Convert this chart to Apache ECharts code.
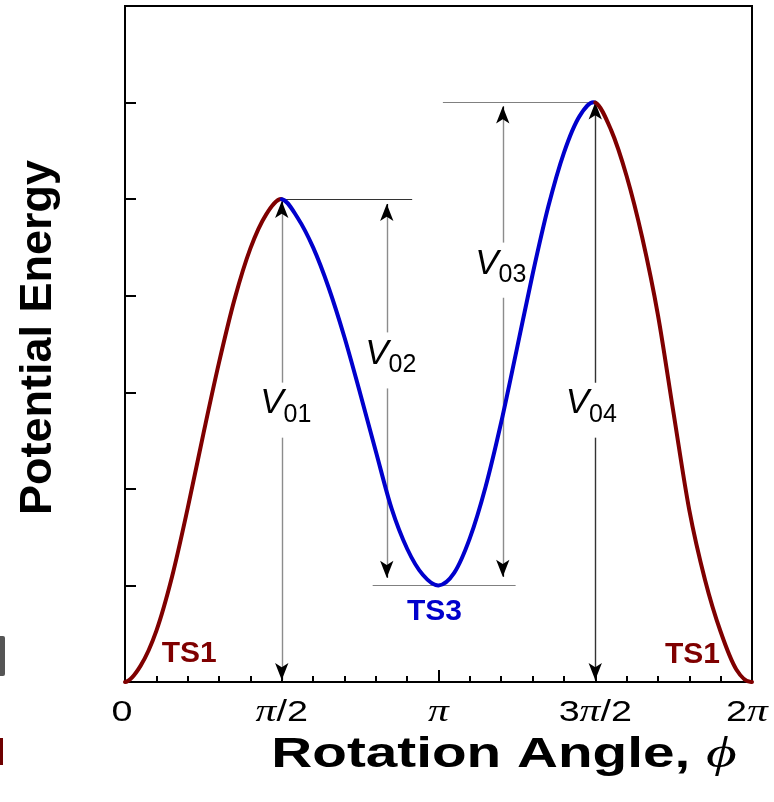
<!DOCTYPE html>
<html>
<head>
<meta charset="utf-8">
<script src="https://cdn.jsdelivr.net/npm/echarts@6/dist/echarts.min.js"></script>
<style>html,body{margin:0;padding:0;background:#fff}#c{width:774px;height:802px}</style>
</head>
<body>
<div id="c"></div>
<script>
// ---------- data (angles in units of pi) ----------
const phi = [0, 0.05, 0.10, 0.15, 0.20, 0.25, 0.30, 0.35, 0.40, 0.45,
             0.50, 0.55, 0.60, 0.65, 0.70, 0.75, 0.80, 0.85, 0.90, 0.95,
             1.00, 1.05, 1.10, 1.15, 1.20, 1.25, 1.30, 1.35, 1.40, 1.45,
             1.50, 1.55, 1.60, 1.65, 1.70, 1.75, 1.80, 1.85, 1.90, 1.95, 2.00];
const energy = [0, 0.17, 0.53, 1.09, 1.80, 2.57, 3.31, 3.97, 4.49, 4.84,
                5.00, 4.81, 4.50, 4.08, 3.57, 2.99, 2.39, 1.80, 1.38, 1.11,
                1.00, 1.13, 1.49, 2.02, 2.69, 3.45, 4.22, 4.92, 5.48, 5.86,
                6.00, 5.72, 5.24, 4.60, 3.80, 2.78, 1.78, 1.06, 0.52, 0.13, 0];
const xTickValues = [0, 0.5, 1, 1.5, 2];
const xTickLabels = ['0', '{p|π}/2', '{p|π}', '3{p|π}/2', '2{p|π}'];
const yMin = 0, yMax = 7, yStep = 1;

// barrier arrows
const barrierNames = ['01', '02', '03', '04'];
const barrierX    = [0.5, 0.835, 1.205, 1.5];
const barrierLow  = [0.02, 1.08, 1.09, 0.02];
const barrierHigh = [4.98, 4.95, 5.96, 6.0];
const labelY  = [2.82, 3.33, 4.26, 2.82];
const gapLow  = [2.53, 3.04, 3.98, 2.53];
const gapHigh = [3.10, 3.62, 4.55, 3.10];
// reference levels
const refLevel = [5, 6, 1];
const refFrom  = [0.5, 1.014, 0.79];
const refTo    = [0.916, 1.5, 1.246];
// transition state labels
const tsNames = ['TS1', 'TS3', 'TS1'];
const tsX = [0.205, 0.987, 1.81];
const tsY = [0.29, 0.725, 0.28];
// colour segments of the curve (indices into phi)
const segStart = [0, 10, 30];
const segEnd   = [10, 30, 40];

// ---------- styles ----------
const FONT = '"Liberation Sans", Arial, Helvetica, sans-serif';
const SERIF = '"Liberation Serif", "DejaVu Serif", serif';
const RED = '#7f0000', BLUE = '#0000cc';
const segColors = [RED, BLUE, RED];
const arrowColors = ['#8c8c8c', '#8c8c8c', '#8c8c8c', '#333333'];
const refColors = ['#333333', '#808080', '#808080'];
const tsColors = [RED, BLUE, RED];
const labelDx = [4, 4, -2, -4];
const TEXT_STRETCH = 1.3;

const chart = echarts.init(document.getElementById('c'));
const curve = phi.map((p, i) => [p, energy[i]]);
const n = phi.length;

function renderCurve(params, api) {
  if (params.dataIndex !== 0) return null;
  // periodic extension for the end tangents
  const P = i => {
    if (i < 0) return api.coord([phi[n - 1 + i] - 2, energy[n - 1 + i]]);
    if (i > n - 1) return api.coord([phi[i - (n - 1)] + 2, energy[i - (n - 1)]]);
    return api.coord([phi[i], energy[i]]);
  };
  const children = [];
  for (let s = 0; s < segStart.length; s++) {
    const p0 = P(segStart[s]);
    let d = 'M' + p0[0] + ' ' + p0[1];
    for (let i = segStart[s]; i < segEnd[s]; i++) {
      const a = P(i - 1), b = P(i), c = P(i + 1), e = P(i + 2);
      const c1x = b[0] + (c[0] - a[0]) / 6, c1y = b[1] + (c[1] - a[1]) / 6;
      const c2x = c[0] - (e[0] - b[0]) / 6, c2y = c[1] - (e[1] - b[1]) / 6;
      d += ' C' + c1x + ' ' + c1y + ' ' + c2x + ' ' + c2y + ' ' + c[0] + ' ' + c[1];
    }
    children.push({
      type: 'path', shape: {pathData: d},
      style: {stroke: segColors[s], fill: null, lineWidth: 4, lineCap: 'round', lineJoin: 'round'}
    });
  }
  return {type: 'group', children: children};
}

const lines = [];
barrierX.forEach((x, i) => {
  const ls = {color: arrowColors[i], width: 1.4, type: 'solid'};
  lines.push([{coord: [x, barrierLow[i]], symbol: 'none', lineStyle: ls}, {coord: [x, gapLow[i]], symbol: 'none'}]);
  lines.push([{coord: [x, gapHigh[i]], symbol: 'none', lineStyle: ls}, {coord: [x, barrierHigh[i]], symbol: 'none'}]);
  const bl = {color: '#000', width: 1, type: 'solid'};
  lines.push([{coord: [x, barrierHigh[i] - 0.1], symbol: 'none', lineStyle: bl},
              {coord: [x, barrierHigh[i]], symbol: 'arrow', symbolSize: [10, 17]}]);
  lines.push([{coord: [x, barrierLow[i] + 0.1], symbol: 'none', lineStyle: bl},
              {coord: [x, barrierLow[i]], symbol: 'arrow', symbolSize: [10, 17]}]);
});
refLevel.forEach((y, i) => {
  lines.push([{coord: [refFrom[i], y], symbol: 'none', lineStyle: {color: refColors[i], width: 1.2, type: 'solid'}},
              {coord: [refTo[i], y], symbol: 'none'}]);
});

const points = [];
barrierX.forEach((x, i) => {
  points.push({coord: [x, labelY[i]], label: {offset: [labelDx[i], 0], formatter: '{v|V}{s|' + barrierNames[i] + '}'}});
});
tsNames.forEach((nm, i) => {
  points.push({coord: [tsX[i], tsY[i]], label: {formatter: nm, color: tsColors[i], fontWeight: 'bold', fontSize: 30, fontFamily: FONT}});
});

chart.setOption({
  animation: false,
  backgroundColor: '#fff',
  grid: {left: 125, right: 22, top: 6, bottom: 120, show: true, borderColor: '#000', borderWidth: 2},
  xAxis: {
    type: 'value', min: 0, max: 2, interval: 0.5,
    axisLine: {lineStyle: {color: '#000', width: 2}},
    axisTick: {inside: true, length: 12, lineStyle: {color: '#000', width: 2}},
    minorTick: {show: true, splitNumber: 5, length: 6, lineStyle: {color: '#000', width: 2}},
    splitLine: {show: false}, minorSplitLine: {show: false},
    axisLabel: {show: false}
  },
  yAxis: {
    type: 'value', min: yMin, max: yMax, interval: yStep,
    axisLine: {show: true, lineStyle: {color: '#000', width: 2}},
    axisTick: {show: true, inside: true, length: 11, lineStyle: {color: '#000', width: 2}},
    axisLabel: {show: false}, splitLine: {show: false},
    name: 'Potential Energy', nameLocation: 'middle', nameGap: 64, nameRotate: 90,
    nameTextStyle: {fontSize: 45, fontWeight: 'bold', fontFamily: FONT, color: '#000', padding: [0, 0, 0, 13]}
  },
  series: [
    {
      type: 'custom', data: curve, encode: {x: 0, y: 1}, silent: true, z: 5,
      renderItem: renderCurve
    },
    {
      type: 'line', data: [], silent: true, z: 3,
      markLine: {silent: true, animation: false, label: {show: false}, data: lines},
      markPoint: {
        silent: true, animation: false, symbol: 'rect', symbolSize: 1,
        itemStyle: {color: 'rgba(0,0,0,0)'},
        label: {
          show: true, position: 'inside', color: '#000',
          rich: {
            v: {fontSize: 35, fontStyle: 'italic', fontFamily: FONT, color: '#000', verticalAlign: 'bottom', lineHeight: 35, padding: [0, 0, 6, 0]},
            s: {fontSize: 25, fontFamily: FONT, color: '#000', verticalAlign: 'bottom', lineHeight: 25}
          }
        },
        data: points
      }
    }
  ]
});

// tick labels and axis title (horizontally stretched text, as in the original figure)
const baseY = chart.convertToPixel({yAxisIndex: 0}, yMin);
const gfx = [
  {type: 'rect', x: 0, y: 636, shape: {width: 5, height: 40, r: [0, 2, 2, 0]}, style: {fill: '#555'}, silent: true},
  {type: 'rect', x: 0, y: 738, shape: {width: 3, height: 27}, style: {fill: '#6e0000'}, silent: true}
];
xTickValues.forEach((v, i) => {
  gfx.push({
    type: 'text', silent: true,
    x: chart.convertToPixel({xAxisIndex: 0}, v) - (i === 0 ? 3 : (i === 4 ? 5 : 0)), y: baseY + 31,
    scaleX: TEXT_STRETCH,
    style: {
      text: xTickLabels[i], align: 'center', verticalAlign: 'middle',
      fontSize: 29, fontFamily: FONT, fill: '#000',
      rich: {p: {fontStyle: 'italic', fontFamily: SERIF, fontSize: 32, fill: '#000'}}
    }
  });
});
gfx.push({
  type: 'text', silent: true,
  x: 504, y: baseY + 73, scaleX: 1.35,
  style: {
    text: '{t|Rotation Angle, }{p|ϕ}', align: 'center', verticalAlign: 'middle',
    rich: {
      t: {fontSize: 42, fontWeight: 'bold', fontFamily: FONT, fill: '#000'},
      p: {fontSize: 44, fontStyle: 'italic', fontFamily: SERIF, fill: '#000'}
    }
  }
});
chart.setOption({graphic: gfx});
</script>
</body>
</html>
